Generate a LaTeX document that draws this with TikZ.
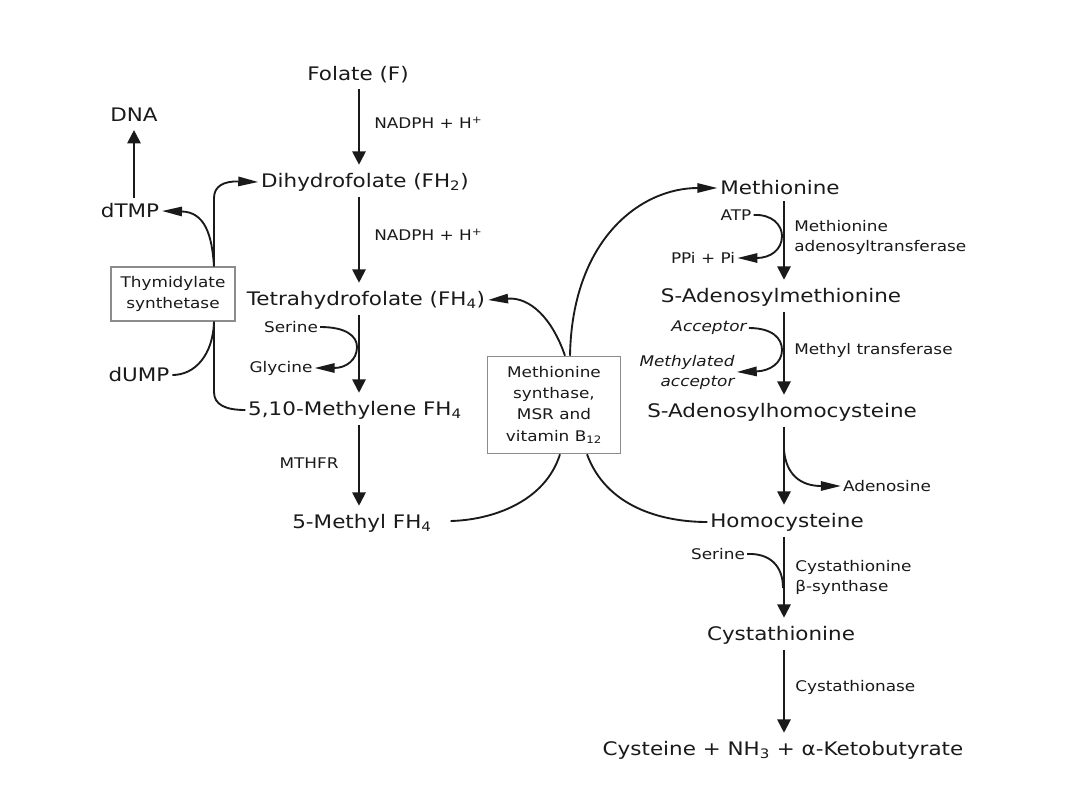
\documentclass[tikz,border=0pt]{standalone}
\usepackage{fontspec}
\setmainfont{DejaVu Sans}[FakeStretch=1.15]
\usepackage{tikz}
\usetikzlibrary{arrows.meta,positioning,calc}
\definecolor{ink}{HTML}{1A1A1A}
\definecolor{boxgray}{HTML}{8C8C8C}

\begin{document}
\begin{tikzpicture}[x=0.75pt,y=-0.75pt]
    \tikzset{
      metab/.style={font=\fontsize{14}{16}\selectfont,text=ink,inner sep=2pt},
      note/.style={font=\fontsize{11}{15}\selectfont,text=ink,inner sep=1.5pt,align=left},
      enzbox/.style={draw=boxgray,line width=0.9pt,fill=white,align=center,font=\fontsize{11}{16}\selectfont,text=ink},
      mainarrow/.style={-{Triangle[length=10pt,width=10pt]},draw=ink,line width=1.5pt,shorten <=2pt,shorten >=4pt},
      sidearrow/.style={-{Triangle[length=15pt,width=7pt]},draw=ink,line width=1.4pt},
      link/.style={draw=ink,line width=1.4pt}
    }
    \fill[white] (0,0) rectangle (1080,810);
    \coordinate (lspine) at (359,0);
    \coordinate (rspine) at (784,0);
    % folate branch
    \node[metab] (folate) at (358,75) {Folate (F)};
    \node[metab] (dhf) at (365,182) {Dihydrofolate (FH\textsubscript{2})};
    \node[metab] (thf) at (366,300) {Tetrahydrofolate (FH\textsubscript{4})};
    \node[metab] (mthf) at (355,410) {5,10-Methylene FH\textsubscript{4}};
    \node[metab] (methylthf) at (362,523) {5-Methyl FH\textsubscript{4}};
    \node[note,anchor=west] (nadph1) at (372,123) {NADPH + H\textsuperscript{+}};
    \node[note,anchor=west] (nadph2) at (372,235) {NADPH + H\textsuperscript{+}};
    \node[note] (serineA) at (291,327) {Serine};
    \node[note] (glycine) at (281,368) {Glycine};
    \node[note] (mthfr) at (309,463) {MTHFR};
    % thymidylate
    \node[metab] (dna) at (134,115) {DNA};
    \node[metab] (dtmp) at (130,211) {dTMP};
    \node[metab] (dump) at (139,375) {dUMP};
    \node[enzbox,minimum width=93pt,minimum height=40.5pt,inner sep=2pt] (ts) at (173,294) {Thymidylate\\synthetase};
    % methionine cycle
    \node[enzbox,minimum width=100pt,minimum height=73pt] (ms) at (554,405) {Methionine\\synthase,\\MSR and\\vitamin B\textsubscript{12}};
    \node[metab] (met) at (780,188) {Methionine};
    \node[metab] (sam) at (781,297) {S-Adenosylmethionine};
    \node[metab] (sah) at (782,412) {S-Adenosylhomocysteine};
    \node[metab] (homocys) at (787,522) {Homocysteine};
    \node[metab] (cysta) at (781,635) {Cystathionine};
    \node[metab] (products) at (783,750) {Cysteine + NH\textsubscript{3} + α-Ketobutyrate};
    \node[note] (atp) at (736,215) {ATP};
    \node[note] (ppi) at (703,258) {PPi + Pi};
    \node[note,anchor=west] (mat) at (792,237) {Methionine\\adenosyltransferase};
    \node[note,font=\fontsize{11}{15}\selectfont\itshape] (acceptor) at (709,328) {Acceptor};
    \node[note,align=right,font=\fontsize{11}{15}\selectfont\itshape] (methacc) at (687,372) {Methylated\\acceptor};
    \node[note,anchor=west] (mtrans) at (792,350) {Methyl transferase};
    \node[note] (adenosine) at (887,486) {Adenosine};
    \node[note] (serineB) at (718,554) {Serine};
    \node[note,anchor=west] (cbs) at (793,577) {Cystathionine\\β-synthase};
    \node[note,anchor=west] (cth) at (793,687) {Cystathionase};
    % main steps
    \draw[mainarrow] (folate.south -| lspine) -- (dhf.north -| lspine);
    \draw[mainarrow] (dhf.south -| lspine) -- (thf.north -| lspine);
    \draw[mainarrow] (thf.south -| lspine) -- (mthf.north -| lspine);
    \draw[mainarrow] (mthf.south -| lspine) -- (methylthf.north -| lspine);
    \draw[mainarrow] (dtmp.north -| dna) -- (dna.south);
    \draw[mainarrow] (met.south -| rspine) -- (sam.north -| rspine);
    \draw[mainarrow] (sam.south -| rspine) -- (sah.north -| rspine);
    \draw[mainarrow] (sah.south -| rspine) -- (homocys.north -| rspine);
    \draw[mainarrow] (homocys.south -| rspine) -- (cysta.north -| rspine);
    \draw[mainarrow] (cysta.south -| rspine) -- (products.north -| rspine);
    % side reactions
    \draw[sidearrow] (serineA.east) .. controls (346,327) and (357,336) .. (357,347) .. controls (357,360) and (346,368) .. (glycine.east);
    \draw[sidearrow] (atp.east) .. controls (772,214) and (782,225) .. (782,236) .. controls (782,250) and (770,258) .. (ppi.east);
    \draw[sidearrow] (acceptor.east) .. controls (772,328) and (782,338) .. (782,350) .. controls (782,363) and (770,371) .. (methacc.east);
    \draw[sidearrow] (784,450) .. controls (786,474) and (800,486) .. (adenosine.west);
    \draw[link] (serineB.east) .. controls (770,553) and (783,566) .. (783,588);
    % thymidylate synthetase links
    \coordinate (tstop) at ($(ts.north)+(41,0)$);
    \coordinate (tsbot) at ($(ts.south)+(41,0)$);
    \draw[sidearrow] (tstop) .. controls (212,235) and (205,212) .. (dtmp.east);
    \draw[sidearrow] (tstop) -- (214,198) .. controls (214,186) and (224,181) .. (dhf.west);
    \draw[link] (tsbot) .. controls (213,355) and (195,375) .. (dump.east);
    \draw[link] (tsbot) -- (214,392) .. controls (214,405) and (226,410) .. (mthf.west);
    % methionine synthase links
    \coordinate (msa) at ($(ms.north)+(11,0)$);
    \coordinate (msb) at ($(ms.north)+(16,0)$);
    \coordinate (msc) at ($(ms.south)+(6,0)$);
    \coordinate (msd) at ($(ms.south)+(33,0)$);
    \draw[sidearrow] (msa) .. controls (552,318) and (530,297) .. (thf.east);
    \draw[sidearrow] (msb) .. controls (572,240) and (640,188) .. (met.west);
    \draw[link] (msc) .. controls (545,502) and (492,520) .. ($(methylthf.east)+(16,-2)$);
    \draw[link] (msd) .. controls (606,506) and (660,522) .. (homocys.west);
  \end{tikzpicture}
\end{document}
